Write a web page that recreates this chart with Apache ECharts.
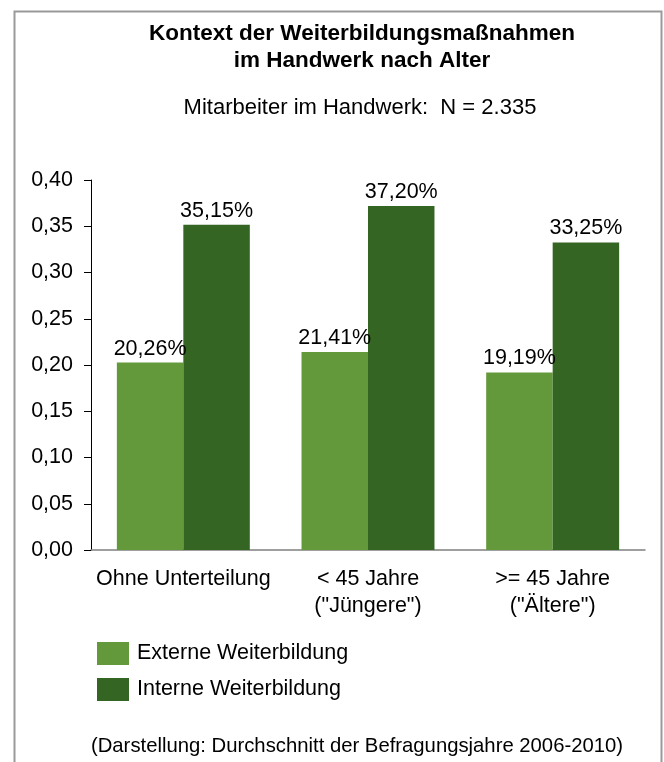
<!DOCTYPE html>
<html><head><meta charset="utf-8">
<script src="https://cdn.jsdelivr.net/npm/echarts@6/dist/echarts.min.js"></script>
<style>html,body{margin:0;padding:0;background:#fff}#c{width:664px;height:762px}</style>
</head><body><div id="c"></div>
<script>
const categories = ['Ohne Unterteilung', '< 45 Jahre\n("Jüngere")', '>= 45 Jahre\n("Ältere")'];
const seriesNames = ['Externe Weiterbildung', 'Interne Weiterbildung'];
const externe = [0.2026, 0.2141, 0.1919];
const interne = [0.3515, 0.3720, 0.3325];
const yTicks = { min: 0, max: 0.40, interval: 0.05 };
const titleText = 'Kontext der Weiterbildungsmaßnahmen\nim Handwerk nach Alter';
const subtitleText = 'Mitarbeiter im Handwerk:  N = 2.335';
const footnoteText = '(Darstellung: Durchschnitt der Befragungsjahre 2006-2010)';

const FONT = '"Liberation Sans", Arial, sans-serif';
const colors = ['#64993b', '#356522'];
const pct = v => (v * 100).toFixed(2).replace('.', ',') + '%';
const FS = 21.5;

const chart = echarts.init(document.getElementById('c'));
chart.setOption({
  animation: false,
  textStyle: { fontFamily: FONT },
  graphic: [
    { type: 'rect', shape: { x: 14.5, y: 11.5, width: 647, height: 800 },
      style: { fill: 'none', stroke: '#999999', lineWidth: 2 }, silent: true }
  ],
  title: [
    { text: titleText, left: 362, textAlign: 'center', top: 20, padding: 0,
      textStyle: { fontSize: 22.5, fontWeight: 'bold', color: '#000', lineHeight: 27 } },
    { text: subtitleText, left: 360, textAlign: 'center', top: 97, padding: 0,
      textStyle: { fontSize: 22, fontWeight: 'normal', color: '#000' } },
    { text: footnoteText, left: 357, textAlign: 'center', top: 736, padding: 0,
      textStyle: { fontSize: 20.3, fontWeight: 'normal', color: '#000' } }
  ],
  legend: {
    orient: 'vertical', left: 97, top: 642, padding: 0, itemWidth: 32, itemHeight: 23, itemGap: 13,
    textStyle: { fontSize: FS, color: '#000', padding: [0, 0, 0, 3] },
    data: seriesNames, icon: 'rect'
  },
  grid: { left: 91, right: 19, top: 180, bottom: 212 },
  xAxis: {
    type: 'category', data: categories,
    axisLine: { lineStyle: { color: '#808080', width: 1.5 } },
    axisTick: { show: false },
    axisLabel: { fontSize: FS, color: '#000', margin: 16, lineHeight: 27, interval: 0 }
  },
  yAxis: {
    type: 'value', min: yTicks.min, max: yTicks.max, interval: yTicks.interval,
    axisLine: { show: true, lineStyle: { color: '#000' } },
    axisTick: { show: true, length: 7, lineStyle: { color: '#000' } },
    splitLine: { show: false },
    axisLabel: { fontSize: FS, color: '#000', margin: 18, formatter: v => v.toFixed(2).replace('.', ',') }
  },
  series: [
    { name: seriesNames[0], type: 'bar', data: externe, barGap: '0%', barCategoryGap: '28%',
      itemStyle: { color: colors[0] },
      label: { show: true, position: 'top', fontSize: FS, color: '#000', distance: 3, formatter: p => pct(p.value) } },
    { name: seriesNames[1], type: 'bar', data: interne,
      itemStyle: { color: colors[1] },
      label: { show: true, position: 'top', fontSize: FS, color: '#000', distance: 3, formatter: p => pct(p.value) } }
  ]
});
</script></body></html>
